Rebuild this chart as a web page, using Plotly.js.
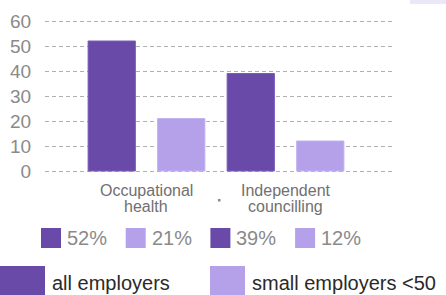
<!DOCTYPE html>
<html>
<head>
<meta charset="utf-8">
<script src="https://cdn.plot.ly/plotly-3.0.1.min.js"></script>
<style>html,body{margin:0;padding:0;background:#fff;}#chart{width:446px;height:295px;}</style>
</head>
<body>
<div id="chart"></div>
<script>
// ---- data ----
const categories = ['Occupational health', 'Independent councilling'];
const categoryLines = [['Occupational', 'health'], ['Independent', 'councilling']];
const allEmployers = [52, 39];
const smallEmployers = [21, 12];
const seriesNames = ['all employers', 'small employers <50'];
const yTicks = [0, 10, 20, 30, 40, 50, 60];

// ---- style ----
const DARK = '#6a4aa9';
const LIGHT = '#b5a1ea';
const W = 446, H = 295;
const M = {l: 45, r: 53, t: 16, b: 119};
const pw = W - M.l - M.r, ph = H - M.t - M.b;
const px = x => (x - M.l) / pw;
const py = y => (H - M.b - y) / ph;

const traces = [
  {type: 'bar', x: categories, y: allEmployers, name: seriesNames[0],
   marker: {color: DARK, line: {color: '#7a5cbb', width: 1}}, width: 0.34, offset: -0.42, hoverinfo: 'none'},
  {type: 'bar', x: categories, y: smallEmployers, name: seriesNames[1],
   marker: {color: LIGHT, line: {color: '#c2b2f0', width: 1}}, width: 0.34, offset: 0.08, hoverinfo: 'none'}
];

const shapes = [];
const annotations = [];
const FONT = 'Liberation Sans, Arial, sans-serif';

// category labels (two lines each)
categoryLines.forEach((lines, i) => {
  lines.forEach((t, j) => {
    annotations.push({xref: 'x', yref: 'paper', x: categories[i], y: py(190 + j * 16), text: t,
      showarrow: false, xanchor: 'center', yanchor: 'middle', font: {family: FONT, size: 16, color: '#707070'}});
  });
});

// percentage legend row
const pctItems = [];
categories.forEach((c, i) => {
  pctItems.push({v: allEmployers[i], color: DARK});
  pctItems.push({v: smallEmployers[i], color: LIGHT});
});
pctItems.forEach((it, k) => {
  const x0 = 41 + k * 84.7;
  shapes.push({type: 'rect', xref: 'paper', yref: 'paper', x0: px(x0), x1: px(x0 + 20),
    y0: py(248), y1: py(228), fillcolor: it.color, line: {width: 0}});
  annotations.push({xref: 'paper', yref: 'paper', x: px(x0 + 24), y: py(238), xanchor: 'left', yanchor: 'middle',
    text: it.v + '%', showarrow: false, font: {family: FONT, size: 20, color: '#8a8a8a'}});
});

// series legend row
const legendX = [0, 210];
const legendW = [45, 35];
seriesNames.forEach((n, i) => {
  shapes.push({type: 'rect', xref: 'paper', yref: 'paper', x0: px(legendX[i]), x1: px(legendX[i] + legendW[i]),
    y0: py(300), y1: py(266), fillcolor: i === 0 ? DARK : LIGHT, line: {width: 0}});
  annotations.push({xref: 'paper', yref: 'paper', x: px(legendX[i] + legendW[i] + 5), y: py(283), xanchor: 'left', yanchor: 'middle',
    text: n, showarrow: false, font: {family: FONT, size: 20, color: '#2a2a2a'}});
});

// partially visible element top-right
shapes.push({type: 'rect', xref: 'paper', yref: 'paper', x0: px(410), x1: px(450), y0: py(4), y1: py(-5),
  fillcolor: '#ebe6f8', line: {width: 0}});
// small separator mark between categories
shapes.push({type: 'rect', xref: 'paper', yref: 'paper', x0: px(218), x1: px(220.5), y0: py(201.5), y1: py(199),
  fillcolor: '#8a8a8a', line: {width: 0}});

const layout = {
  width: W, height: H,
  margin: M,
  paper_bgcolor: '#fff', plot_bgcolor: '#fff',
  showlegend: false,
  barmode: 'overlay',
  font: {family: FONT},
  xaxis: {type: 'category', range: [-0.73, 1.773], showgrid: false, zeroline: false, showline: false,
    showticklabels: false, ticks: '', fixedrange: true},
  yaxis: {range: [-2, 62], tickvals: yTicks, ticktext: yTicks.map(String), showgrid: true,
    gridcolor: '#b0b0b0', griddash: '4px,3px', gridwidth: 1, zeroline: false, showline: false,
    ticks: 'outside', ticklen: 9, tickcolor: 'rgba(0,0,0,0)',
    tickfont: {size: 19, color: '#8a8a8a'}, fixedrange: true},
  shapes: shapes,
  annotations: annotations
};

Plotly.newPlot('chart', traces, layout, {displayModeBar: false, staticPlot: true});
</script>
</body>
</html>
